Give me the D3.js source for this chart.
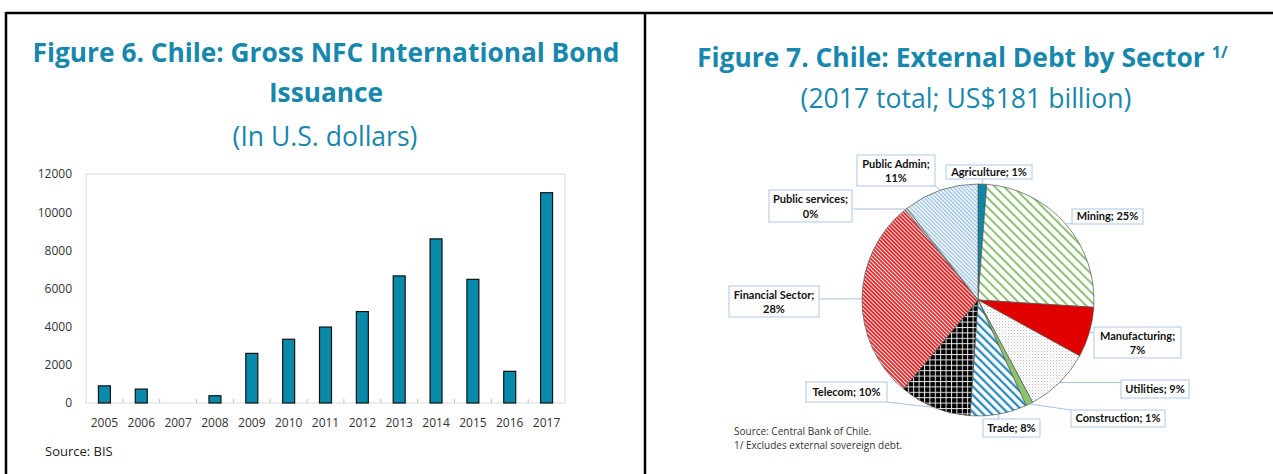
<!DOCTYPE html>
<html>
<head>
<meta charset="utf-8">
<script src="https://cdn.jsdelivr.net/npm/d3@7"></script>
<style>
  body { margin: 0; background: #fff; }
  text { font-family: "Open Sans", sans-serif; }
  .title { fill: #1787ad; font-weight: 700; }
  .subtitle { fill: #1787ad; font-weight: 400; }
  .axis text { fill: #333; font-size: 12px; }
  .pieLabel { font-family: "Liberation Sans Narrow", "Lato", sans-serif; font-weight: 700; font-size: 11px; fill: #111; }
</style>
</head>
<body>
<div class="chart"></div>
<script>
// Figure 6 data
var years = ["2005", "2006", "2007", "2008", "2009", "2010", "2011", "2012", "2013", "2014", "2015", "2016", "2017"];
var issuance = [900, 730, 0, 380, 2600, 3340, 3980, 4790, 6660, 8600, 6480, 1660, 11020];
var yTicks = [0, 2000, 4000, 6000, 8000, 10000, 12000];

// Figure 7 data
var sectors = ["Agriculture", "Mining", "Manufacturing", "Utilities", "Construction", "Trade", "Telecom", "Financial Sector", "Public services", "Public Admin"];
var shares = [1.2, 24.8, 7.0, 9.2, 1.0, 7.9, 10.0, 28.1, 0.3, 10.5];

var svgWidth = 1273;
var svgHeight = 474;

var svg = d3.select(".chart")
  .append("svg")
  .attr("width", svgWidth)
  .attr("height", svgHeight);

// shrink/grow a text element so it spans the given width
function fitText(sel, target) {
  var size = parseFloat(sel.style("font-size"));
  var len = sel.node().getComputedTextLength();
  sel.style("font-size", (size * target / len) + "px");
}

// frame
svg.append("line").attr("x1", 6).attr("x2", 1273).attr("y1", 13).attr("y2", 13)
  .attr("stroke", "#000").attr("stroke-width", 2.5);
svg.append("line").attr("x1", 6).attr("x2", 6).attr("y1", 12).attr("y2", 474)
  .attr("stroke", "#000").attr("stroke-width", 2.5);
svg.append("line").attr("x1", 645).attr("x2", 645).attr("y1", 12).attr("y2", 474)
  .attr("stroke", "#000").attr("stroke-width", 2.5);

// ---------- Figure 6: bar chart ----------
var t1 = svg.append("text").attr("class", "title").attr("x", 326).attr("y", 62)
  .attr("text-anchor", "middle").style("font-size", "24px")
  .text("Figure 6. Chile: Gross NFC International Bond");
fitText(t1, 587);
svg.append("text").attr("class", "title").attr("x", 326).attr("y", 102)
  .attr("text-anchor", "middle").style("font-size", t1.style("font-size"))
  .text("Issuance");
var s1 = svg.append("text").attr("class", "subtitle").attr("x", 325).attr("y", 146)
  .attr("text-anchor", "middle").style("font-size", "21px")
  .text("(In U.S. dollars)");
fitText(s1, 185);

var plot = { left: 86, right: 565, top: 174, bottom: 403 };

var xBand = d3.scaleBand()
  .domain(years)
  .range([plot.left, plot.right])
  .paddingInner(0.675)
  .paddingOuter(0.3375);

var yLinear = d3.scaleLinear()
  .domain([0, 12000])
  .range([plot.bottom, plot.top]);

svg.append("rect")
  .attr("x", plot.left).attr("y", plot.top)
  .attr("width", plot.right - plot.left).attr("height", plot.bottom - plot.top)
  .attr("fill", "none").attr("stroke", "#d9d9d9");

// category separators (small ticks pointing up from the baseline)
var step = xBand.step();
svg.append("g").selectAll("line")
  .data(d3.range(1, years.length))
  .enter()
  .append("line")
  .attr("x1", i => plot.left + i * step)
  .attr("x2", i => plot.left + i * step)
  .attr("y1", plot.bottom)
  .attr("y2", plot.bottom - 4)
  .attr("stroke", "#bfbfbf");

var leftAxis = d3.axisLeft(yLinear).tickValues(yTicks).tickFormat(d3.format("d"))
  .tickSize(0).tickPadding(14);
svg.append("g").attr("class", "axis")
  .attr("transform", `translate(${plot.left}, 0)`)
  .call(leftAxis)
  .call(g => g.select(".domain").remove());

var bottomAxis = d3.axisBottom(xBand).tickSize(0).tickPadding(15);
svg.append("g").attr("class", "axis")
  .attr("transform", `translate(0, ${plot.bottom})`)
  .call(bottomAxis)
  .call(g => g.select(".domain").remove());

svg.append("g").selectAll("rect")
  .data(years)
  .enter()
  .filter((d, i) => issuance[i] > 0)
  .append("rect")
  .attr("x", d => xBand(d))
  .attr("y", d => yLinear(issuance[years.indexOf(d)]))
  .attr("width", xBand.bandwidth())
  .attr("height", d => plot.bottom - yLinear(issuance[years.indexOf(d)]))
  .attr("fill", "#0a8aab")
  .attr("stroke", "#111")
  .attr("stroke-width", 1.2);

svg.append("text").attr("x", 45).attr("y", 456)
  .style("font-size", "13px").attr("fill", "#222")
  .text("Source: BIS");

// ---------- Figure 7: pie chart ----------
var t2 = svg.append("text").attr("class", "title").attr("x", 697).attr("y", 67)
  .style("font-size", "24px");
t2.append("tspan").text("Figure 7. Chile: External Debt by Sector");
var t2len = t2.node().getComputedTextLength();
t2.style("font-size", (24 * 508 / t2len) + "px");
t2.append("tspan").attr("dx", 7).attr("dy", -9).style("font-size", "16px").text("1/");

var s2 = svg.append("text").attr("class", "subtitle").attr("x", 966).attr("y", 108)
  .attr("text-anchor", "middle").style("font-size", "21px")
  .text("(2017 total; US$181 billion)");
fitText(s2, 331);

var defs = svg.append("defs");

function stripes(id, gap, width, color, angle) {
  var p = defs.append("pattern").attr("id", id)
    .attr("patternUnits", "userSpaceOnUse")
    .attr("width", gap).attr("height", gap)
    .attr("patternTransform", `rotate(${angle})`);
  p.append("rect").attr("width", gap).attr("height", gap).attr("fill", "#fff");
  p.append("rect").attr("width", width).attr("height", gap).attr("fill", color);
}
stripes("pMining", 6.5, 2, "#8cc173", -45);
stripes("pTrade", 6, 2.3, "#2a8bbd", -45);
stripes("pFin", 2.8, 1.9, "#e5282a", -45);
stripes("pAdmin", 2.8, 1.3, "#93bde0", -45);

var grid = defs.append("pattern").attr("id", "pTelecom")
  .attr("patternUnits", "userSpaceOnUse").attr("width", 5.4).attr("height", 5.4);
grid.append("rect").attr("width", 5.4).attr("height", 5.4).attr("fill", "#000");
grid.append("rect").attr("width", 5.4).attr("height", 1).attr("fill", "#e6e6e6");
grid.append("rect").attr("width", 1).attr("height", 5.4).attr("fill", "#e6e6e6");

var dots = defs.append("pattern").attr("id", "pUtil")
  .attr("patternUnits", "userSpaceOnUse").attr("width", 3).attr("height", 3);
dots.append("rect").attr("width", 3).attr("height", 3).attr("fill", "#fff");
dots.append("rect").attr("width", 1).attr("height", 1).attr("fill", "#c4c4c4");
dots.append("rect").attr("x", 1.5).attr("y", 1.5).attr("width", 1).attr("height", 1).attr("fill", "#dcdcdc");

var sliceFill = ["#0d86a8", "url(#pMining)", "#e00000", "url(#pUtil)", "#8cc46e",
  "url(#pTrade)", "url(#pTelecom)", "url(#pFin)", "#d9d9d9", "url(#pAdmin)"];

// label box layout [x, y, w, h, two lines]
var labelBoxes = [
  [946, 165, 86, 14, false],
  [1072, 209, 71, 15, false],
  [1094, 327, 87, 31, true],
  [1121, 380, 68, 18, false],
  [1071, 410, 94, 17, false],
  [983, 419, 57, 18, false],
  [806, 382, 81, 20, false],
  [729, 286, 90, 31, true],
  [769, 190, 83, 32, true],
  [857, 155, 78, 31, true]
];

var cx = 978, cy = 300, radius = 116;

var pie = d3.pie().sort(null).value(d => d);
var arcs = pie(shares);
var arc = d3.arc().innerRadius(0).outerRadius(radius);

var pieGroup = svg.append("g").attr("transform", `translate(${cx}, ${cy})`);
pieGroup.selectAll("path")
  .data(arcs)
  .enter()
  .append("path")
  .attr("d", arc)
  .attr("fill", (d, i) => sliceFill[i])
  .attr("stroke", "#555")
  .attr("stroke-width", 0.7);

// leader lines
svg.append("g").selectAll("line")
  .data(arcs)
  .enter()
  .append("line")
  .each(function (d, i) {
    var a = (d.startAngle + d.endAngle) / 2;
    var ax = cx + radius * Math.sin(a);
    var ay = cy - radius * Math.cos(a);
    var b = labelBoxes[i];
    var bx = Math.max(b[0], Math.min(ax, b[0] + b[2]));
    var by = Math.max(b[1], Math.min(ay, b[1] + b[3]));
    d3.select(this).attr("x1", ax).attr("y1", ay).attr("x2", bx).attr("y2", by);
  })
  .attr("stroke", "#a9bfe0")
  .attr("stroke-width", 1);

var labelGroup = svg.append("g");
labelGroup.selectAll("rect")
  .data(labelBoxes)
  .enter()
  .append("rect")
  .attr("x", b => b[0]).attr("y", b => b[1])
  .attr("width", b => b[2]).attr("height", b => b[3])
  .attr("fill", "#fff")
  .attr("stroke", "#bcd0ea")
  .attr("stroke-width", 1.2);

labelBoxes.forEach(function (b, i) {
  var pct = Math.round(shares[i]) + "%";
  var mid = b[0] + b[2] / 2;
  if (b[4]) {
    labelGroup.append("text").attr("class", "pieLabel")
      .attr("x", mid).attr("y", b[1] + b[3] * 0.29).attr("dy", "0.35em")
      .attr("text-anchor", "middle").text(sectors[i] + ";");
    labelGroup.append("text").attr("class", "pieLabel")
      .attr("x", mid).attr("y", b[1] + b[3] * 0.74).attr("dy", "0.35em")
      .attr("text-anchor", "middle").text(pct);
  } else {
    labelGroup.append("text").attr("class", "pieLabel")
      .attr("x", mid).attr("y", b[1] + b[3] / 2).attr("dy", "0.35em")
      .attr("text-anchor", "middle").text(sectors[i] + "; " + pct);
  }
});

svg.append("text").attr("x", 734).attr("y", 435)
  .style("font-size", "10px").attr("fill", "#333")
  .text("Source: Central Bank of Chile.");
svg.append("text").attr("x", 734).attr("y", 449)
  .style("font-size", "10px").attr("fill", "#333")
  .text("1/ Excludes external sovereign debt.");
</script>
</body>
</html>
